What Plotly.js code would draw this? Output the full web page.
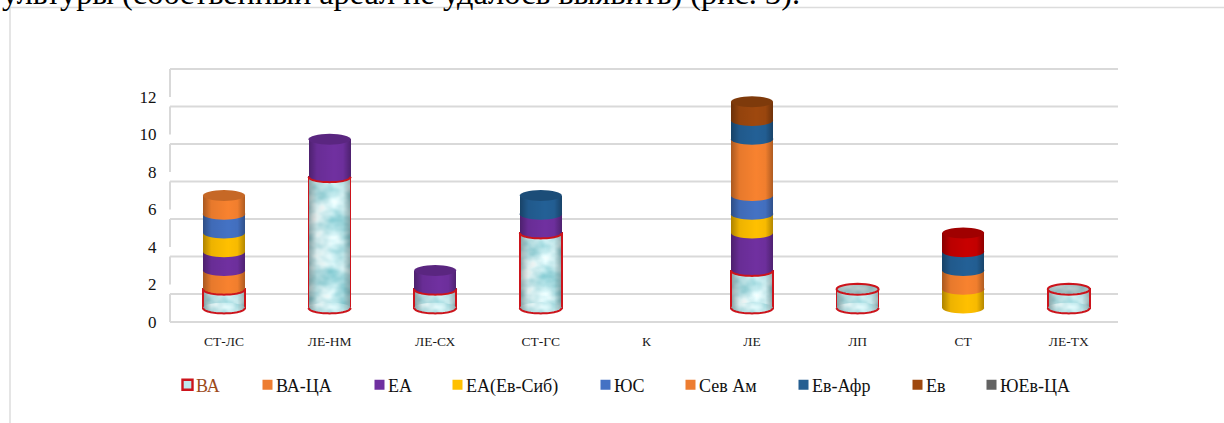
<!DOCTYPE html>
<html><head><meta charset="utf-8">
<script src="https://cdn.plot.ly/plotly-3.0.1.min.js"></script>
<style>html,body{margin:0;padding:0;background:#fff;overflow:hidden}#c{width:1224px;height:423px}</style>
</head><body><div id="c"></div>
<script>
const categories=['СТ-ЛС','ЛЕ-НМ','ЛЕ-СХ','СТ-ГС','К','ЛЕ','ЛП','СТ','ЛЕ-ТХ'];
const seriesNames=['ВА','ВА-ЦА','ЕА','ЕА(Ев-Сиб)','ЮС','Сев Ам','Ев-Афр','Ев','ЮЕв-ЦА'];
const VA=[1,7,1,4,0,2,1,0,1];
const VA_CA=[1,0,0,0,0,0,0,0,0];
const EA=[1,2,1,1,0,2,0,0,0];
const EA_EvSib=[1,0,0,0,0,1,0,1,0];
const YuS=[1,0,0,0,0,1,0,0,0];
const SevAm=[1,0,0,0,0,3,0,1,0];
const EvAfr=[0,0,0,1,0,1,0,1,0];
const Ev=[0,0,0,0,0,1,0,0,0];
const YuEvCA=[0,0,0,0,0,0,0,1,0];
const seriesValues=[VA,VA_CA,EA,EA_EvSib,YuS,SevAm,EvAfr,Ev,YuEvCA];
const seriesColors=['#bfe9ee','#f8822f','#7030a0','#ffc000','#4472c4','#f8822f','#236096','#9e480e','#636363'];
const legendColors=['#bfe9ee','#ed7d31','#7030a0','#ffc000','#4472c4','#ed7d31','#255e91','#9e480e','#636363'];
const pointColors={8:{7:'#c80000'}};
const yTicks=[0,2,4,6,8,10,12];
const legendTextLeft=[196,276,388,466,614,699,812,926,1000];

const W=1224,H=423;
const PX_UNIT=18.75, Y0=308, X0=224, X_STEP=105.6, BAR_PX=42, DEPTH=14/18.75, ELL=5.4/18.75;
const barW=BAR_PX/X_STEP, hw=barW/2;
const xr=[(0-X0)/X_STEP,(W-X0)/X_STEP];
const yr=[(Y0-H)/PX_UNIT,Y0/PX_UNIT];
const idx=categories.map((_,i)=>i);
const gridCol='#d9d9d9', RED='#cc141c';

function colorOf(s,i){return (pointColors[s]&&pointColors[s][i])||seriesColors[s];}
function ellipsePts(cx,cy,from,to){let p=[];for(let k=0;k<=32;k++){const a=from+(to-from)*k/32;p.push((cx+hw*Math.cos(a)).toFixed(4)+','+(cy+ELL*Math.sin(a)).toFixed(4));}return p;}
function pathOf(pts,close){return 'M'+pts.join('L')+(close?'Z':'');}

const shapes=[];
yTicks.forEach(t=>{
  shapes.push({type:'line',layer:'below',xref:'paper',yref:'y',x0:170/W,x1:1118/W,y0:t+DEPTH,y1:t+DEPTH,line:{color:gridCol,width:2}});
  shapes.push({type:'line',layer:'below',xref:'paper',yref:'y',x0:170/W,x1:170/W,y0:t+DEPTH,y1:t-DEPTH,line:{color:gridCol,width:2}});
});
shapes.push({type:'line',layer:'below',xref:'paper',yref:'y',x0:170/W,x1:1118/W,y0:-DEPTH,y1:-DEPTH,line:{color:gridCol,width:2}});
shapes.push({type:'line',layer:'below',xref:'paper',yref:'paper',x0:10/W,x1:1,y0:1-7.5/H,y1:1-7.5/H,line:{color:'#dcdcdc',width:1.5}});
shapes.push({type:'line',layer:'below',xref:'paper',yref:'paper',x0:10/W,x1:10/W,y0:0,y1:1-7.5/H,line:{color:'#dcdcdc',width:1.5}});

const capMeta=[];
function addCap(d,meta){shapes.push({layer:'above',xref:'x',yref:'y',type:'path',path:d.path,fillcolor:d.fill,line:d.line||{width:0}});capMeta.push(meta);}
idx.forEach(i=>{
  let base=0,last=-1;
  seriesValues.forEach((vals,s)=>{
    const v=vals[i]; if(!v) return;
    addCap({path:pathOf(ellipsePts(i,base,0,2*Math.PI),true),fill:colorOf(s,i)},{s,kind:'side',i});
    if(s===0) addCap({path:pathOf(ellipsePts(i,base,Math.PI,2*Math.PI),false),fill:'rgba(0,0,0,0)',line:{color:RED,width:2}},{s,kind:'line',i});
    base+=v; last=s;
  });
  if(VA[i]&&last!==0) addCap({path:pathOf(ellipsePts(i,VA[i],Math.PI,2*Math.PI),false),fill:'rgba(0,0,0,0)',line:{color:RED,width:2}},{s:0,kind:'line',i});
  if(last>=0) addCap({path:pathOf(ellipsePts(i,base,0,2*Math.PI),true),fill:colorOf(last,i),line:last===0?{color:RED,width:2}:{width:0}},{s:last,kind:'top',i});
});

const traces=seriesNames.map((n,s)=>({
  type:'bar',name:n,x:idx,y:seriesValues[s],width:barW,
  legend:s===0?'legend':'legend'+(s+1),
  marker:{color:idx.map(i=>colorOf(s,i)),line:s===0?{color:RED,width:idx.map(i=>VA[i]?1.6:0)}:{width:0}},
  hoverinfo:'skip'
}));

const layout={
  width:W,height:H,margin:{l:0,r:0,t:0,b:0,pad:0},barmode:'stack',showlegend:true,
  paper_bgcolor:'#fff',plot_bgcolor:'rgba(0,0,0,0)',
  font:{family:'"Liberation Serif",serif',color:'#000'},
  xaxis:{type:'linear',range:xr,tickmode:'array',tickvals:idx,ticktext:categories,showgrid:false,zeroline:false,showline:false,
    anchor:'free',position:(H-322)/H,ticks:'outside',ticklen:7,tickcolor:'rgba(0,0,0,0)',tickfont:{size:13.5,color:'#1a1a1a'},fixedrange:true},
  yaxis:{type:'linear',range:yr,tickmode:'array',tickvals:yTicks.map(t=>t-DEPTH),ticktext:yTicks.map(String),showgrid:false,zeroline:false,showline:false,
    anchor:'free',position:170/W,ticks:'outside',ticklen:10,tickcolor:'rgba(0,0,0,0)',tickfont:{size:17,color:'#111'},fixedrange:true},
  shapes,
  annotations:[{xref:'paper',yref:'paper',x:0,y:1+7/H,xanchor:'left',yanchor:'middle',showarrow:false,align:'left',
    text:'ультуры (собственный ареал не удалось выявить) (рис. 3).',font:{size:32.3,color:'#000',family:'"Liberation Serif",serif'}}]
};
seriesNames.forEach((n,s)=>{
  layout[s===0?'legend':'legend'+(s+1)]={x:(legendTextLeft[s]-40)/W,y:1-385/H,xanchor:'left',yanchor:'middle',orientation:'h',bgcolor:'rgba(0,0,0,0)',borderwidth:0,
    itemclick:false,itemdoubleclick:false,font:{size:18,color:s===0?'#9c4a1a':'#111',family:'"Liberation Serif",serif'}};
});

Plotly.newPlot('c',traces,layout,{displayModeBar:false,staticPlot:true}).then(gd=>{
  const NS='http://www.w3.org/2000/svg';
  const svg=gd.querySelector('svg.main-svg');
  const defs=svg.querySelector('defs')||svg.insertBefore(document.createElementNS(NS,'defs'),svg.firstChild);
  function mk(tag,attrs,parent){const e=document.createElementNS(NS,tag);for(const k in attrs)e.setAttribute(k,attrs[k]);if(parent)parent.appendChild(e);return e;}
  const shade=mk('linearGradient',{id:'shade',x1:0,x2:1,y1:0,y2:0},defs);
  [[0,.32],[.2,.07],[.6,0],[.82,.03],[1,.3]].forEach(a=>mk('stop',{offset:a[0],'stop-color':'#000','stop-opacity':a[1]},shade));
  const f=mk('filter',{id:'marble',x:0,y:0,width:'100%',height:'100%'},defs);
  f.setAttribute('color-interpolation-filters','sRGB');
  mk('feTurbulence',{type:'fractalNoise',baseFrequency:'0.04 0.055',numOctaves:3,seed:7,result:'n'},f);
  mk('feColorMatrix',{type:'matrix',values:'0.8 0 0 0 0.36  0.4 0 0 0 0.72  0.35 0 0 0 0.76  0 0 0 0 1'},f);
  let n=0;
  function texture(el,color,isVA,isTop){
    const b=el.getBBox(); if(b.width<=0) return;
    const id='p'+(n++);
    const pat=mk('pattern',{id,patternUnits:'userSpaceOnUse',x:b.x,y:b.y,width:b.width,height:Math.max(b.height,1)},defs);
    if(isVA) mk('rect',{x:0,y:0,width:b.width,height:b.height,fill:'#c8f0f4',filter:'url(#marble)'},pat);
    else mk('rect',{x:0,y:0,width:b.width,height:b.height,fill:color},pat);
    mk('rect',{x:0,y:0,width:b.width,height:b.height,fill:isTop?'rgba(0,0,0,.2)':'url(#shade)'},pat);
    el.style.setProperty('fill','url(#'+id+')');
    el.style.setProperty('fill-opacity','1');
  }
  gd.querySelectorAll('.barlayer .trace').forEach((tr,s)=>{
    tr.querySelectorAll('.point path').forEach((p,j)=>{
      if(p.getBBox().height>0) texture(p,colorOf(s,j),s===0,false);
    });
  });
  [...gd.querySelectorAll('.layer-above .shapelayer path')].forEach((p,k)=>{
    const m=capMeta[k]; if(!m||m.kind==='line')return;
    texture(p,colorOf(m.s,m.i),m.s===0,m.kind==='top');
  });
  gd.querySelectorAll('.infolayer .legendsymbols').forEach((g,k)=>{
    g.setAttribute('transform','translate(11.5,0)');
    g.querySelectorAll('path').forEach(p=>{
      p.setAttribute('d','M5,5H-5V-5H5Z');
      p.style.setProperty('fill',legendColors[k]);
      if(k===0){p.style.setProperty('stroke',RED);p.style.setProperty('stroke-width','2.4px');}
    });
  });
});
</script></body></html>
